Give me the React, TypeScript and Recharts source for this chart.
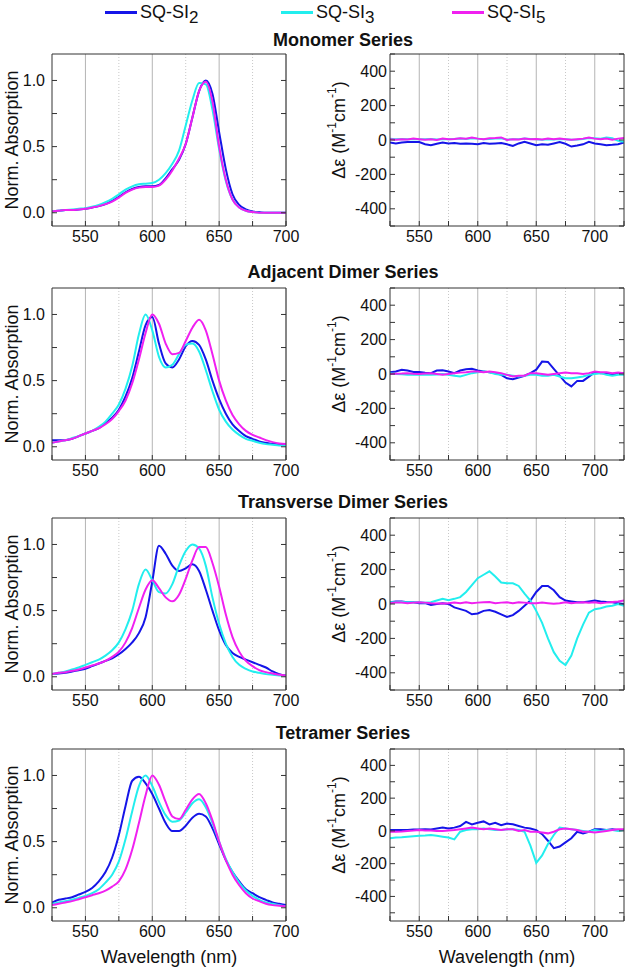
import React from 'react';
import { Label, Line, LineChart, ReferenceLine, XAxis, YAxis } from 'recharts';

const seriesSubs = ['2', '3', '5'];
const seriesColors = ['#1515e8', '#22eeee', '#f020f0'];
const rowTitles = ['Monomer Series', 'Adjacent Dimer Series', 'Transverse Dimer Series', 'Tetramer Series'];

const wlAbs = [525, 530, 535, 540, 545, 550, 555, 560, 565, 570, 575, 580, 585, 590, 595, 600, 605, 610,
  615, 620, 625, 630, 635, 640, 645, 650, 655, 660, 665, 670, 675, 680, 685, 690, 695, 700];
const wlCd = [525, 530, 535, 540, 545, 550, 555, 560, 565, 570, 575, 580, 585, 590, 595, 600, 605, 610,
  615, 620, 625, 630, 635, 640, 645, 650, 655, 660, 665, 670, 675, 680, 685, 690, 695, 700, 705, 710,
  715, 720, 725];

// normalized absorption
const monoAbs2 = [0.01, 0.015, 0.02, 0.02, 0.025, 0.03, 0.04, 0.05, 0.065, 0.09, 0.12, 0.155, 0.18, 0.195, 0.2, 0.2, 0.21, 0.26,
  0.33, 0.4, 0.52, 0.72, 0.92, 1.0, 0.9, 0.61, 0.33, 0.14, 0.06, 0.025, 0.01, 0.005, 0, 0, 0, 0];
const monoAbs3 = [0.01, 0.015, 0.02, 0.025, 0.03, 0.035, 0.045, 0.06, 0.08, 0.105, 0.14, 0.175, 0.2, 0.215, 0.22, 0.225, 0.25, 0.3,
  0.37, 0.47, 0.66, 0.85, 0.98, 0.97, 0.78, 0.48, 0.24, 0.1, 0.04, 0.015, 0.005, 0, 0, 0, 0, 0];
const monoAbs5 = [0.01, 0.015, 0.02, 0.02, 0.025, 0.03, 0.04, 0.05, 0.065, 0.085, 0.115, 0.15, 0.175, 0.19, 0.195, 0.195, 0.205, 0.25,
  0.32, 0.41, 0.52, 0.72, 0.92, 0.99, 0.84, 0.5, 0.25, 0.1, 0.04, 0.015, 0.005, 0, 0, 0, 0, 0];

const adjAbs2 = [0.05, 0.05, 0.05, 0.06, 0.08, 0.1, 0.12, 0.14, 0.18, 0.22, 0.28, 0.38, 0.52, 0.72, 0.92, 0.98, 0.78, 0.63,
  0.6, 0.66, 0.76, 0.8, 0.77, 0.66, 0.5, 0.36, 0.25, 0.17, 0.12, 0.08, 0.06, 0.04, 0.03, 0.02, 0.02, 0.01];
const adjAbs3 = [0.03, 0.04, 0.05, 0.065, 0.08, 0.1, 0.12, 0.15, 0.19, 0.25, 0.32, 0.44, 0.61, 0.85, 1.0, 0.88, 0.68, 0.6,
  0.62, 0.7, 0.77, 0.78, 0.72, 0.58, 0.42, 0.28, 0.19, 0.13, 0.09, 0.06, 0.045, 0.03, 0.02, 0.015, 0.01, 0.01];
const adjAbs5 = [0.03, 0.04, 0.05, 0.06, 0.08, 0.1, 0.12, 0.14, 0.17, 0.21, 0.27, 0.35, 0.48, 0.66, 0.86, 1.0, 0.93, 0.78,
  0.7, 0.71, 0.8, 0.9, 0.96, 0.88, 0.7, 0.5, 0.35, 0.24, 0.17, 0.12, 0.09, 0.07, 0.05, 0.035, 0.025, 0.02];

const trvAbs2 = [0.02, 0.025, 0.03, 0.04, 0.05, 0.06, 0.08, 0.1, 0.12, 0.14, 0.17, 0.21, 0.26, 0.33, 0.45, 0.72, 0.99, 0.93,
  0.84, 0.8, 0.82, 0.85, 0.8, 0.66, 0.5, 0.35, 0.24, 0.18, 0.15, 0.13, 0.11, 0.09, 0.07, 0.04, 0.02, 0.01];
const trvAbs3 = [0.02, 0.03, 0.04, 0.055, 0.07, 0.09, 0.11, 0.13, 0.16, 0.2, 0.26, 0.36, 0.5, 0.7, 0.81, 0.73, 0.64, 0.63,
  0.7, 0.84, 0.95, 1.0, 0.97, 0.84, 0.6, 0.4, 0.25, 0.15, 0.09, 0.06, 0.04, 0.03, 0.02, 0.015, 0.01, 0.01];
const trvAbs5 = [0.02, 0.03, 0.035, 0.045, 0.055, 0.07, 0.085, 0.1, 0.12, 0.15, 0.19, 0.26, 0.37, 0.52, 0.66, 0.73, 0.67, 0.6,
  0.57, 0.62, 0.74, 0.88, 0.98, 0.98, 0.86, 0.68, 0.47, 0.3, 0.19, 0.12, 0.08, 0.05, 0.035, 0.025, 0.015, 0.01];

const tetAbs2 = [0.04, 0.06, 0.07, 0.08, 0.1, 0.12, 0.15, 0.2, 0.27, 0.38, 0.55, 0.77, 0.96, 0.99, 0.94, 0.86, 0.75, 0.64,
  0.58, 0.58, 0.62, 0.68, 0.71, 0.69, 0.6, 0.48, 0.36, 0.27, 0.2, 0.14, 0.11, 0.08, 0.06, 0.04, 0.03, 0.02];
const tetAbs3 = [0.03, 0.04, 0.05, 0.06, 0.075, 0.09, 0.11, 0.14, 0.19, 0.25, 0.35, 0.52, 0.73, 0.92, 1.0, 0.92, 0.8, 0.7,
  0.65, 0.66, 0.72, 0.79, 0.82, 0.76, 0.64, 0.5, 0.37, 0.27, 0.19, 0.13, 0.09, 0.06, 0.04, 0.03, 0.02, 0.01];
const tetAbs5 = [0.02, 0.03, 0.04, 0.05, 0.065, 0.08, 0.095, 0.11, 0.13, 0.16, 0.2, 0.29, 0.44, 0.64, 0.85, 1.0, 0.93, 0.8,
  0.69, 0.67, 0.74, 0.82, 0.86, 0.79, 0.66, 0.5, 0.36, 0.25, 0.17, 0.11, 0.07, 0.05, 0.03, 0.02, 0.015, 0.01];

// circular dichroism, M^-1 cm^-1
const monoCd2 = [-15, -20, -15, -12, -12, -12, -25, -30, -22, -15, -20, -18, -22, -20, -22, -25, -18, -22, -20, -18, -25,
  -35, -20, -10, -20, -30, -25, -28, -20, -12, -22, -38, -32, -25, -10, -20, -25, -30, -28, -25, -15];
const monoCd3 = [8, 5, 6, 4, 6, 5, 4, 6, 3, 5, 4, 6, 8, 6, 10, 8, 4, 6, 8, 10, 2, 4, 5, 8, 6, 4, 2, 5, 3, 6, 4, 2, 3,
  6, 12, 10, 8, 15, 10, -5, -10];
const monoCd5 = [5, 2, 5, 3, 8, 5, 2, 5, 0, 8, 5, 6, 10, 8, 15, 8, 5, 10, 12, 15, 0, 5, 3, 8, 5, 6, 3, 8, 4, 8, 5, 2, 5,
  8, 15, 8, 5, 8, 2, 8, 12];

const adjCd2 = [10, 15, 25, 20, 12, 12, 8, 5, 20, 22, 15, 5, 20, 28, 30, 20, 15, 10, 5, -5, -25, -30, -20, -10, 5, 25, 72,
  70, 30, -10, -50, -72, -40, -40, -15, 10, 5, 5, -5, 5, 5];
const adjCd3 = [5, 0, -2, -5, -3, -5, -5, -5, -3, 0, -5, -10, -15, -5, 5, 10, 15, 10, 0, -5, -5, -10, -15, -10, -5, -5, -10,
  -10, -5, -15, -25, -25, -20, -15, -5, 0, 5, -5, -10, -5, -5];
const adjCd5 = [0, 2, 3, 5, 2, 0, 3, 5, 0, -5, 0, 5, 8, 10, 15, 15, 10, 15, 10, 5, -5, -15, -10, -10, 5, 5, 0, -5, 0, 5, 8,
  5, 5, 0, 5, 15, 10, 10, 5, 8, 5];

const trvCd2 = [10, 15, 15, 10, 10, 5, 5, -5, 0, 5, 0, -20, -30, -40, -60, -55, -40, -35, -45, -60, -75, -65, -40, -10, 20,
  70, 105, 105, 80, 40, 20, 15, 10, 10, 15, 20, 15, 12, 10, 5, 0];
const trvCd3 = [10, 10, 12, 10, 10, 12, 8, 10, 20, 30, 22, 30, 40, 70, 110, 150, 170, 190, 160, 125, 120, 120, 105, 60, 20,
  -40, -110, -200, -280, -330, -355, -300, -200, -120, -50, -30, -25, -15, -10, 0, -10];
const trvCd5 = [5, 8, 8, 5, 8, 10, 8, 5, 3, 3, 5, 8, 5, 10, 5, 8, 10, 12, 5, 8, 10, 5, 10, 8, 5, 5, 8, 5, 2, 5, 10, 5, 8,
  10, 8, 10, 5, 8, 12, 15, 20];

const tetCd2 = [5, 5, 5, 5, 8, 8, 10, 8, 15, 20, 15, 20, 30, 55, 40, 50, 58, 40, 50, 35, 45, 40, 30, 20, 15, 5, -20, -60,
  -105, -95, -70, -45, -5, -15, -5, 10, 10, 5, 10, 5, 5];
const tetCd3 = [-45, -40, -38, -35, -32, -30, -28, -25, -30, -35, -40, -52, -5, 5, 10, 10, 15, 10, 5, 5, 10, 10, 5, -5,
  -90, -195, -150, -80, -25, 20, 15, 10, 5, 0, -5, 5, 0, 5, 5, 0, 5];
const tetCd5 = [-5, -5, -3, 0, 2, 5, 3, 3, 0, 0, 3, 5, 10, 15, 20, 15, 10, 15, 10, 5, 10, 10, 0, 5, -5, -5, -10, -15, -5,
  10, 15, 10, 5, -5, -5, -10, -5, 0, 5, 10, 10];

const absSeries = [
  [monoAbs2, monoAbs3, monoAbs5],
  [adjAbs2, adjAbs3, adjAbs5],
  [trvAbs2, trvAbs3, trvAbs5],
  [tetAbs2, tetAbs3, tetAbs5],
];
const cdSeries = [
  [monoCd2, monoCd3, monoCd5],
  [adjCd2, adjCd3, adjCd5],
  [trvCd2, trvCd3, trvCd5],
  [tetCd2, tetCd3, tetCd5],
];
const cdMins = [-500, -500, -500, -550];

const absXTicks = [525, 550, 575, 600, 625, 650, 675, 700];
const cdXTicks = [525, 550, 575, 600, 625, 650, 675, 700, 725];
const absYTicks = [0, 0.25, 0.5, 0.75, 1.0];
const cdYTicks = [-500, -400, -300, -200, -100, 0, 100, 200, 300, 400, 500];
const gridMajor = [550, 600, 650, 700];
const gridMinor = [575, 625, 675];

const plotTops = [54, 288, 518, 749];
const titleYs = [40, 272, 502, 733];
const legendXs = [105, 281, 452];

const PAD = 5;
const PLOT_H = 172;
const FRAME = '#333';
const FONT = '"Liberation Sans", Arial, sans-serif';

const fmtX = (v: number) => (v % 50 === 0 ? String(v) : '');
const fmtAbsY = (v: number) => (v % 0.5 === 0 ? v.toFixed(1) : '');
const fmtCdY = (v: number) => (v % 200 === 0 ? String(v) : '');
const blank = () => '';

function AbsLabel() {
  const cx = 12;
  const cy = PAD + PLOT_H / 2;
  return (
    <text x={cx} y={cy} transform={`rotate(-90 ${cx} ${cy})`} textAnchor='middle' dominantBaseline='central'
      fontSize={18} fill='#111'>
      Norm. Absorption
    </text>
  );
}

function CdLabel() {
  const cx = 29;
  const cy = PAD + PLOT_H / 2 - 10;
  return (
    <text x={cx} y={cy} transform={`rotate(-90 ${cx} ${cy})`} textAnchor='middle' dominantBaseline='central'
      fontSize={18} fill='#111'>
      Δε (M<tspan dy={-7} fontSize={12}>-1</tspan><tspan dy={7}>cm</tspan>
      <tspan dy={-7} fontSize={12}>-1</tspan><tspan dy={7}>)</tspan>
    </text>
  );
}

interface PanelProps {
  kind: 'abs' | 'cd';
  row: number;
}

function Panel({ kind, row }: PanelProps): JSX.Element {
  const isAbs = kind === 'abs';
  const last = row === 3;
  const wl = isAbs ? wlAbs : wlCd;
  const series = isAbs ? absSeries[row] : cdSeries[row];
  const data = wl.map((w, i) => ({ wl: w, s0: series[0][i], s1: series[1][i], s2: series[2][i] }));
  const xDomain = isAbs ? [525, 700] : [525, 725];
  const xTicks = isAbs ? absXTicks : cdXTicks;
  const yDomain = isAbs ? [-0.1, 1.2] : [cdMins[row], 500];
  const yTicks = isAbs ? absYTicks : cdYTicks.filter((t) => t >= cdMins[row]);
  const xH = last ? 47 : 30;
  const tickStyle = { fill: '#111', fontSize: 16 };

  return (
    <div style={{ position: 'absolute', left: isAbs ? 0 : 310, top: plotTops[row] - PAD }}>
      <LineChart
        width={isAbs ? 300 : 315}
        height={PAD + PLOT_H + xH}
        data={data}
        margin={{ top: 0, right: isAbs ? 13 : 0, bottom: 0, left: 0 }}
      >
        <XAxis dataKey='wl' type='number' domain={xDomain} ticks={xTicks} interval={0} allowDataOverflow
          tickSize={-5} tickMargin={10} tickFormatter={fmtX} height={xH} stroke={FRAME} tick={tickStyle}>
          {last && <Label value='Wavelength (nm)' position='insideBottom' offset={5} fontSize={18} fill='#111'/>}
        </XAxis>
        <XAxis xAxisId='top' orientation='top' type='number' domain={xDomain} ticks={xTicks} interval={0}
          allowDataOverflow tickSize={-5} tickFormatter={blank} height={PAD} stroke={FRAME}/>
        <YAxis type='number' domain={yDomain} ticks={yTicks} interval={0} allowDataOverflow
          tickSize={-5} tickMargin={isAbs ? 12 : 8} tickFormatter={isAbs ? fmtAbsY : fmtCdY}
          width={isAbs ? 52 : 80} stroke={FRAME} tick={tickStyle}>
          <Label content={isAbs ? AbsLabel : CdLabel}/>
        </YAxis>
        <YAxis yAxisId='r' orientation='right' type='number' domain={yDomain} ticks={yTicks} interval={0}
          allowDataOverflow tickSize={-5} tickFormatter={blank} width={1} stroke={FRAME}/>
        {gridMajor.map((x) => <ReferenceLine key={'g' + x} x={x} stroke='#b4b4b4' strokeWidth={1}/>)}
        {gridMinor.map((x) => (
          <ReferenceLine key={'m' + x} x={x} stroke='#c8c8c8' strokeWidth={1} strokeDasharray='1 2'/>
        ))}
        {seriesColors.map((c, k) => (
          <Line key={k} dataKey={'s' + k} type={isAbs ? 'monotone' : 'linear'} stroke={c} strokeWidth={2}
            dot={false} isAnimationActive={false}/>
        ))}
      </LineChart>
    </div>
  );
}

export default function App(): JSX.Element {
  return (
    <div style={{
      position: 'absolute', left: 0, top: 0, width: 625, height: 968, background: '#fff', fontFamily: FONT,
      color: '#111',
    }}>
      {seriesSubs.map((sub, k) => (
        <div key={sub} style={{ position: 'absolute', left: legendXs[k], top: 0, height: 26 }}>
          <div style={{ position: 'absolute', left: 0, top: 11, width: 32, height: 2.5, background: seriesColors[k] }}/>
          <div style={{ position: 'absolute', left: 35, top: 1, fontSize: 18, lineHeight: '22px', whiteSpace: 'nowrap' }}>
            SQ-SI<span style={{ position: 'relative', top: 5, fontSize: 17 }}>{sub}</span>
          </div>
        </div>
      ))}
      {rowTitles.map((t, r) => (
        <div key={t} style={{
          position: 'absolute', left: 193, width: 300, top: titleYs[r] - 11, textAlign: 'center',
          fontSize: 18, fontWeight: 'bold', lineHeight: '22px',
        }}>
          {t}
        </div>
      ))}
      {rowTitles.map((t, r) => <Panel key={'a' + r} kind='abs' row={r}/>)}
      {rowTitles.map((t, r) => <Panel key={'c' + r} kind='cd' row={r}/>)}
    </div>
  );
}
